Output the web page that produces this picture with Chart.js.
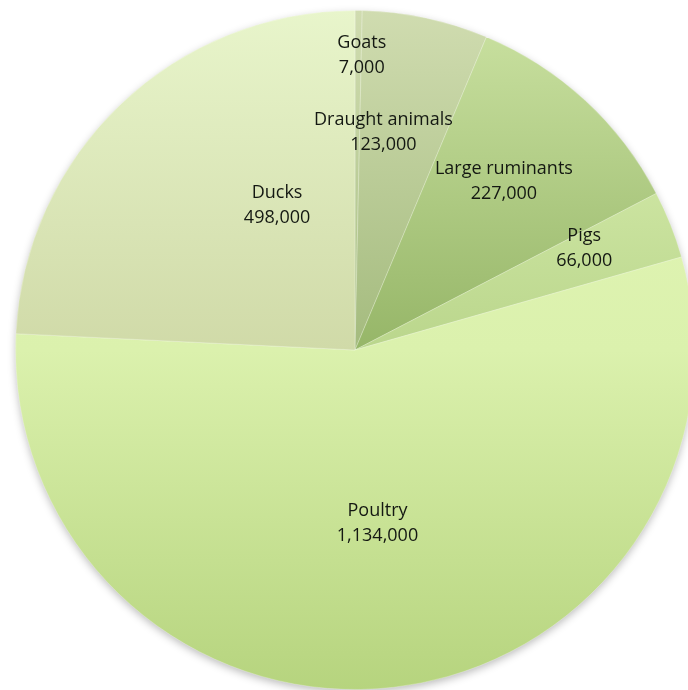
<!DOCTYPE html>
<html>
<head>
<meta charset="utf-8">
<script src="https://cdn.jsdelivr.net/npm/chart.js@4/dist/chart.umd.min.js"></script>
<style>
  html, body { margin: 0; padding: 0; background: #fff; overflow: hidden; }
  #wrap { position: absolute; left: 0; top: 0; width: 710px; height: 700px; }
</style>
</head>
<body>
<div id="wrap"><canvas id="mycanvas" width="710" height="700"></canvas></div>
<script>
// livestock numbers, clockwise from 12 o'clock
var animals = ['Goats', 'Draught animals', 'Large ruminants', 'Pigs', 'Poultry', 'Ducks'];
var heads = [7000, 123000, 227000, 66000, 1134000, 498000];

// gradient stops (top of pie, centre, bottom of pie) for each slice
var shades = [
  ['#d0dcb0', '#a8bf82', '#a0b878'],
  ['#d0dcb0', '#a4bb7e', '#9cb474'],
  ['#cbe2a2', '#96b668', '#90b060'],
  ['#e0f4b8', '#bad68c', '#b0cc80'],
  ['#e4f7b8', '#dbf1ad', '#b6d47e'],
  ['#e8f5cb', '#d0daa8', '#c4cf9c']
];

// label placement: [fraction of radius, angle shift in degrees]
var labelPlace = [[0.872, 0.7], [0.65, -4.6], [0.665, -1.4], [0.74, -2.5], [0.51, -0.9], [0.487, 15.5]];

function fmt(n) {
  return n.toString().replace(/\B(?=(\d{3})+(?!\d))/g, ',');
}

var pieShadow = {
  id: 'pieShadow',
  beforeDatasetsDraw: function(chart) {
    var arc = chart.getDatasetMeta(0).data[0];
    if (!arc) return;
    var ctx = chart.ctx;
    ctx.save();
    ctx.shadowColor = 'rgba(0,0,0,0.28)';
    ctx.shadowBlur = 9;
    ctx.shadowOffsetY = 3;
    ctx.fillStyle = '#d0e4a4';
    ctx.beginPath();
    ctx.arc(arc.x, arc.y, arc.outerRadius - 0.5, 0, Math.PI * 2);
    ctx.fill();
    ctx.restore();
  }
};

var sliceLabels = {
  id: 'sliceLabels',
  afterDatasetsDraw: function(chart) {
    var ctx = chart.ctx;
    var meta = chart.getDatasetMeta(0);
    ctx.save();
    ctx.font = '18px "Open Sans"';
    ctx.fillStyle = '#141812';
    ctx.textAlign = 'center';
    ctx.textBaseline = 'alphabetic';
    meta.data.forEach(function(arc, i) {
      var p = labelPlace[i];
      var a = (arc.startAngle + arc.endAngle) / 2 + p[1] * Math.PI / 180;
      var cx = arc.x + Math.cos(a) * arc.outerRadius * p[0];
      var cy = arc.y + Math.sin(a) * arc.outerRadius * p[0];
      ctx.fillText(animals[i], cx, cy - 6);
      ctx.fillText(fmt(heads[i]), cx, cy + 19);
    });
    ctx.restore();
  }
};

var ctx = document.getElementById('mycanvas');

var pieChart = new Chart(ctx, {
  type: 'pie',
  data: {
    labels: animals,
    datasets: [{
      data: heads,
      backgroundColor: function(c) {
        var chart = c.chart;
        var area = chart.chartArea;
        var s = shades[c.dataIndex];
        if (!area) return s[1];
        var g = chart.ctx.createLinearGradient(0, area.top, 0, area.bottom);
        g.addColorStop(0, s[0]);
        g.addColorStop(0.5, s[1]);
        g.addColorStop(1, s[2]);
        return g;
      },
      borderColor: 'rgba(255,255,255,0.25)',
      borderWidth: 1
    }]
  },
  options: {
    responsive: false,
    animation: false,
    layout: { padding: { left: 15, right: 15, top: 10, bottom: 10 } },
    plugins: {
      legend: { display: false },
      tooltip: { enabled: false }
    }
  },
  plugins: [pieShadow, sliceLabels]
});
</script>
</body>
</html>
